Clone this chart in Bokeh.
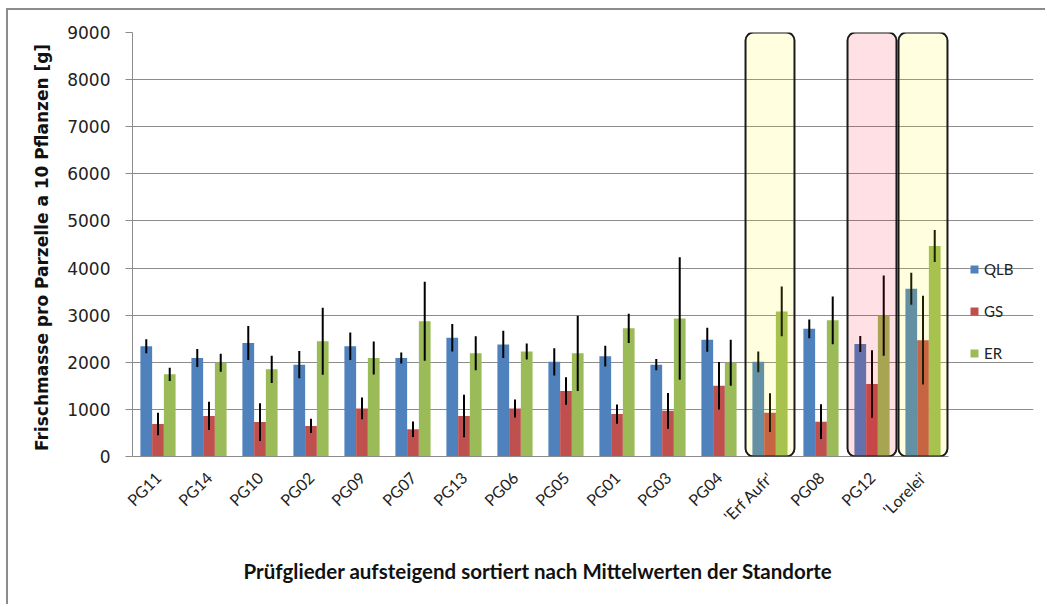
import math
from bokeh.plotting import figure
from bokeh.models import (ColumnDataSource, Range1d, Legend, LegendItem,
                          BoxAnnotation, FixedTicker, Title)
from bokeh.transform import dodge
from bokeh.embed import file_html
from bokeh.resources import INLINE

# ---------------- data ----------------
categories = ["PG11", "PG14", "PG10", "PG02", "PG09", "PG07", "PG13", "PG06",
              "PG05", "PG01", "PG03", "PG04", "'Erf Aufr'", "PG08", "PG12", "'Lorelei'"]
series = ["QLB", "GS", "ER"]
qlb = [2340, 2090, 2410, 1950, 2340, 2090, 2520, 2380, 2010, 2130, 1950, 2480, 2010, 2710, 2390, 3560]
qlb_err = [150, 190, 360, 290, 290, 115, 290, 290, 290, 220, 120, 255, 220, 200, 170, 340]
gs = [690, 860, 730, 650, 1020, 580, 860, 1020, 1390, 900, 970, 1500, 930, 740, 1540, 2470]
gs_err = [240, 300, 400, 150, 230, 165, 450, 190, 290, 205, 380, 505, 410, 370, 715, 940]
er = [1745, 1990, 1850, 2445, 2090, 2870, 2190, 2230, 2190, 2720, 2930, 1990, 3080, 2890, 2990, 4470]
er_err = [140, 190, 290, 710, 350, 840, 360, 170, 800, 310, 1300, 490, 530, 505, 850, 340]
highlights = {"'Erf Aufr'": "#FFFF00", "PG12": "#FF001E", "'Lorelei'": "#FFFF00"}
y_ticks = [0, 1000, 2000, 3000, 4000, 5000, 6000, 7000, 8000, 9000]

colors = ["#4F81BD", "#C0504D", "#9BBB59"]
values = [qlb, gs, er]
errors = [qlb_err, gs_err, er_err]

n = len(categories)
centers = [i + 0.5 for i in range(n)]
data = {"x": centers, "cat": categories}
for name, v, e in zip(series, values, errors):
    data[name] = v
    data[name + "_lo"] = [a - b for a, b in zip(v, e)]
    data[name + "_hi"] = [a + b for a, b in zip(v, e)]
src = ColumnDataSource(data)

# layout: category area 816 px wide, legend lives to the right inside the frame
W, H = 1039, 596
BL, BR, BT, BB = 124, 14, 22, 150
CAT_W = 816
frame_w = W - BL - BR
x_end = n * frame_w / CAT_W

p = figure(x_range=Range1d(0, x_end), y_range=Range1d(0, 9000),
           width=W, height=H, output_backend="svg", toolbar_location=None,
           min_border_left=BL, min_border_right=BR, min_border_top=BT, min_border_bottom=BB)
p.styles = {"margin-left": "6px", "margin-top": "8px",
            "border-left": "2px solid #8c8c8c", "border-top": "2px solid #8c8c8c"}
p.outline_line_color = None
p.background_fill_color = "white"

bw = 0.23
items = []
for i, (name, col) in enumerate(zip(series, colors)):
    off = (i - 1) * bw
    r = p.vbar(x=dodge("x", off), top=name, width=bw, bottom=0,
               source=src, fill_color=col, line_color=None)
    items.append(LegendItem(label=name, renderers=[r]))
for i, name in enumerate(series):
    off = (i - 1) * bw
    p.segment(x0=dodge("x", off), x1=dodge("x", off),
              y0=name + "_lo", y1=name + "_hi", source=src, line_color="black", line_width=2)

for cat, col in highlights.items():
    idx = categories.index(cat)
    p.add_layout(BoxAnnotation(left=idx + 0.02, right=idx + 0.98, bottom=0, top=9000,
                               fill_color=col, fill_alpha=0.12, line_color="#1a1a1a",
                               line_alpha=1.0, line_width=2, border_radius=8))

legend = Legend(items=items, location=(837, 93), orientation="vertical", padding=0, margin=0,
                spacing=22, label_height=20, glyph_height=10, glyph_width=10, label_standoff=5,
                label_text_font="Lato", label_text_font_size="15px", label_text_color="#222222",
                border_line_color=None, background_fill_alpha=0)
p.add_layout(legend)

# grid / axes
p.xgrid.visible = False
p.ygrid.grid_line_color = "#8c8c8c"
p.ygrid.grid_line_width = 1
p.ygrid.bounds = (0, n)
p.yaxis.ticker = FixedTicker(ticks=y_ticks)
p.yaxis.minor_tick_line_color = None
p.yaxis.major_tick_in = 0
p.yaxis.major_tick_out = 7
p.yaxis.major_tick_line_color = "#8c8c8c"
p.yaxis.axis_line_color = "#8c8c8c"
p.yaxis.major_label_standoff = 15
p.yaxis.major_label_text_font = "DejaVu Sans"
p.yaxis.major_label_text_font_size = "17px"
p.yaxis.major_label_text_color = "#222222"

ytitle = Title(text="Frischmasse  pro Parzelle a 10 Pflanzen [g]", align="center", offset=-26,
               text_font="DejaVu Sans", text_font_size="17px", text_font_style="bold",
               text_color="#111111", standoff=25)
p.add_layout(ytitle, "left")

p.xaxis.bounds = (0, n)
p.xaxis.ticker = FixedTicker(ticks=centers)
p.xaxis.major_label_overrides = {c: lab for c, lab in zip(centers, categories)}
p.xaxis.axis_line_color = "#8c8c8c"
p.xaxis.major_tick_line_color = None
p.xaxis.minor_tick_line_color = None
p.xaxis.major_label_orientation = math.pi / 4
p.xaxis.major_label_standoff = 12
p.xaxis.major_label_text_font = "Lato"
p.xaxis.major_label_text_font_size = "16px"
p.xaxis.major_label_text_color = "#222222"

# x title placed under the category area (not under the legend)
xtitle = Title(text="Prüfglieder aufsteigend  sortiert nach Mittelwerten der Standorte",
               align="left", offset=111,
               text_font="Lato", text_font_size="20.5px", text_font_style="bold",
               text_color="#111111", standoff=44)
p.add_layout(xtitle, "below")

open("out.html", "w").write(file_html(p, INLINE))
